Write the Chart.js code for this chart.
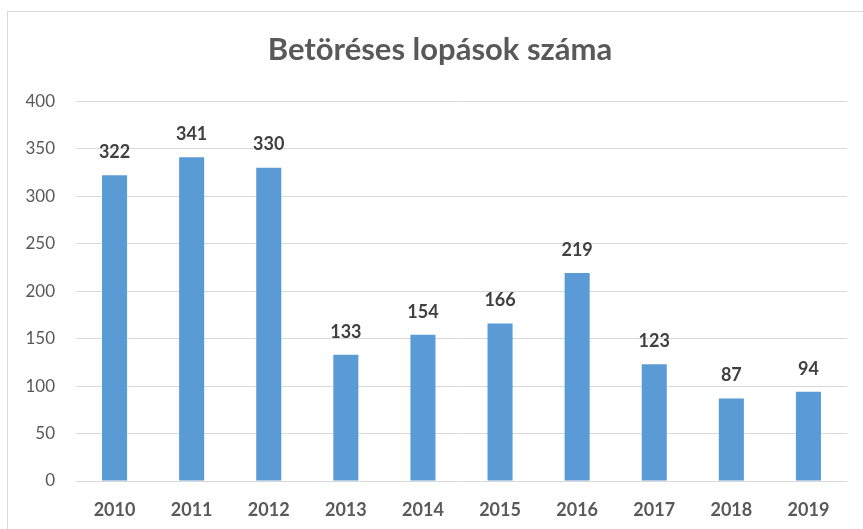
<!DOCTYPE html>
<html>
<head>
<meta charset="utf-8">
<script src="https://cdn.jsdelivr.net/npm/chart.js@4"></script>
<style>
body { margin: 0; background: #fff; overflow: hidden; }
.frame { position: absolute; left: 7px; top: 11px; width: 900px; height: 600px; border: 1px solid #d9d9d9; }
#myChart { position: absolute; left: 0; top: 0; }
</style>
</head>
<body>
<div class="frame"></div>
<canvas id="myChart" width="863" height="529"></canvas>
<script>
const years = ['2010', '2011', '2012', '2013', '2014', '2015', '2016', '2017', '2018', '2019'];
const cases = [322, 341, 330, 133, 154, 166, 219, 123, 87, 94];
const yTicks = [0, 50, 100, 150, 200, 250, 300, 350, 400];

// value labels above bars
const barLabels = {
    id: 'barLabels',
    afterDatasetsDraw(chart) {
        const c = chart.ctx;
        const meta = chart.getDatasetMeta(0);
        c.save();
        c.font = 'bold 18px Lato';
        c.fillStyle = '#404040';
        c.textAlign = 'center';
        c.textBaseline = 'bottom';
        meta.data.forEach((bar, i) => {
            c.fillText(chart.data.datasets[0].data[i], bar.x, bar.y - 14);
        });
        c.restore();
    }
};

// title is centred on the whole frame in the original, nudge it right
const titleShift = {
    id: 'titleShift',
    afterLayout(chart) {
        if (chart.titleBlock) chart.titleBlock.left = 33;
    }
};

const ctx = document.getElementById('myChart');

new Chart(ctx, {
type: 'bar',
data: {
    labels: years,
    datasets: [{
        data: cases,
        backgroundColor: '#5b9bd5',
        barPercentage: 0.325,
        categoryPercentage: 1,
    }]
},
options: {
    responsive: false,
    animation: false,
    devicePixelRatio: 1,
    layout: {
        padding: { left: 0, right: 16, top: 0, bottom: 0 }
    },
    scales: {
        x: {
            grid: { display: false, drawTicks: false },
            border: { display: false },
            ticks: {
                color: '#595959',
                font: { family: 'Lato', size: 18, weight: 'bold' },
                padding: 18,
            },
            afterFit(scale) { scale.height = 48; }
        },
        y: {
            min: 0,
            max: 400,
            afterBuildTicks(scale) { scale.ticks = yTicks.map(v => ({ value: v })); },
            grid: { color: '#d9d9d9', drawTicks: false },
            border: { display: false },
            ticks: {
                color: '#595959',
                font: { family: 'Lato', size: 17 },
                padding: 21,
            },
            afterFit(scale) { scale.width = 76; }
        }
    },
    plugins: {
        tooltip: { enabled: false },
        legend: { display: false },
        title: {
            display: true,
            text: 'Betöréses lopások száma',
            color: '#595959',
            font: { family: 'Lato', size: 31, weight: 'bold', lineHeight: 1.2 },
            padding: { top: 31, bottom: 33 },
        }
    }
},
plugins: [barLabels, titleShift]
});
</script>
</body>
</html>
